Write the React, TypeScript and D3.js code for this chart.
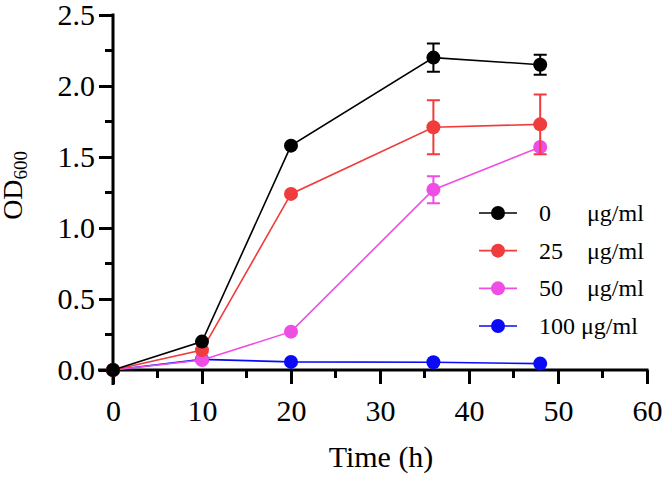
import React, { useEffect, useRef } from 'react';
import * as d3 from 'd3';

const times = [0, 10, 20, 36, 48];

const seriesNames = ['0', '25', '50', '100'];
const seriesColors = ['#000000', '#f03c3c', '#ee4ee4', '#0a0af5'];

const od0 = [0, 0.2, 1.58, 2.2, 2.15];
const sd0 = [0, 0, 0, 0.1, 0.07];
const od25 = [0, 0.14, 1.24, 1.71, 1.73];
const sd25 = [0, 0, 0, 0.19, 0.21];
const od50 = [0, 0.07, 0.27, 1.27, 1.57];
const sd50 = [0, 0, 0, 0.095, 0];
const od100 = [0, 0.075, 0.057, 0.055, 0.045];
const sd100 = [0, 0, 0, 0, 0];

const xTicks = [0, 10, 20, 30, 40, 50, 60];
const yTicks = [0, 0.5, 1.0, 1.5, 2.0, 2.5];

const FONT = '"Liberation Serif", "Times New Roman", serif';

const App: React.FC = () => {
  const ref = useRef<SVGSVGElement>(null);
  const width = 665;
  const height = 477;

  useEffect(() => {
    if (!ref.current) return;
    const svg = d3.select(ref.current);
    svg.selectAll('*').remove();

    const x = d3.scaleLinear().domain([0, 60]).range([113, 647]);
    const y = d3.scaleLinear().domain([0, 2.5]).range([370, 15]);

    const values = [od0, od25, od50, od100];
    const errors = [sd0, sd25, sd50, sd100];
    const series = seriesNames.map((name, i) => ({
      name,
      color: seriesColors[i],
      points: times.map((t, j) => ({ t, v: values[i][j], e: errors[i][j] })),
    }));

    // axes: major ticks with labels, minor ticks halfway
    const xAxis = svg
      .append('g')
      .attr('transform', `translate(0,${y(0)})`)
      .call(
        d3
          .axisBottom(x)
          .tickValues(xTicks)
          .tickSize(14)
          .tickSizeOuter(0)
          .tickPadding(16)
          .tickFormat((d) => String(d))
      )
      .attr('font-family', FONT)
      .attr('font-size', 30);
    xAxis.select('.domain').attr('stroke-width', 3).attr('d', `M${x(0) - 15},0H${x(60) + 1.5}`);
    xAxis.selectAll('.tick line').attr('stroke-width', 3);
    xAxis.selectAll('.tick text').attr('fill', '#000');
    xAxis
      .selectAll('.minor')
      .data([5, 15, 25, 35, 45, 55])
      .enter()
      .append('line')
      .attr('x1', (d) => x(d))
      .attr('x2', (d) => x(d))
      .attr('y1', 0)
      .attr('y2', 8)
      .attr('stroke', '#000')
      .attr('stroke-width', 3);

    const yAxis = svg
      .append('g')
      .attr('transform', `translate(${x(0)},0)`)
      .call(
        d3
          .axisLeft(y)
          .tickValues(yTicks)
          .tickSize(14)
          .tickSizeOuter(0)
          .tickPadding(4)
          .tickFormat((d) => d3.format('.1f')(d as number))
      )
      .attr('font-family', FONT)
      .attr('font-size', 30);
    yAxis.select('.domain').attr('stroke-width', 3).attr('d', `M0,${y(0) + 15}V${y(2.5) - 1.5}`);
    yAxis.selectAll('.tick line').attr('stroke-width', 3);
    yAxis.selectAll('.tick text').attr('fill', '#000').attr('dy', '0.3em');
    yAxis
      .selectAll('.minor')
      .data([0.25, 0.75, 1.25, 1.75, 2.25])
      .enter()
      .append('line')
      .attr('x1', 0)
      .attr('x2', -8)
      .attr('y1', (d) => y(d))
      .attr('y2', (d) => y(d))
      .attr('stroke', '#000')
      .attr('stroke-width', 3);

    // axis titles
    svg
      .append('text')
      .attr('x', 381)
      .attr('y', 467)
      .attr('text-anchor', 'middle')
      .attr('font-family', FONT)
      .attr('font-size', 30)
      .text('Time (h)');

    const yTitle = svg
      .append('text')
      .attr('transform', `translate(22,${y(1.3)}) rotate(-90)`)
      .attr('text-anchor', 'middle')
      .attr('font-family', FONT)
      .attr('font-size', 28);
    yTitle.append('tspan').text('OD');
    yTitle.append('tspan').attr('font-size', 19).attr('dy', 5).text('600');

    const line = d3
      .line<{ t: number; v: number }>()
      .x((d) => x(d.t))
      .y((d) => y(d.v));

    // draw from the highest concentration up so the control sits on top
    const layers = [...series].reverse();
    layers.forEach((s) => {
      const g = svg.append('g');
      g.append('path')
        .datum(s.points)
        .attr('fill', 'none')
        .attr('stroke', s.color)
        .attr('stroke-width', 1.6)
        .attr('d', line);

      const bars = s.points.filter((p) => p.e > 0);
      g.selectAll('.err')
        .data(bars)
        .enter()
        .append('path')
        .attr('fill', 'none')
        .attr('stroke', s.color)
        .attr('stroke-width', 2)
        .attr(
          'd',
          (p) =>
            `M${x(p.t)},${y(p.v + p.e)}V${y(p.v - p.e)}` +
            `M${x(p.t) - 6.5},${y(p.v + p.e)}h13` +
            `M${x(p.t) - 6.5},${y(p.v - p.e)}h13`
        );

      g.selectAll('.dot')
        .data(s.points)
        .enter()
        .append('circle')
        .attr('cx', (p) => x(p.t))
        .attr('cy', (p) => y(p.v))
        .attr('r', 7)
        .attr('fill', s.color);
    });

    // legend
    const legendY = d3.scalePoint<string>().domain(seriesNames).range([213, 326]);
    const legend = svg.append('g').attr('font-family', FONT).attr('font-size', 24);
    series.forEach((s) => {
      const ly = legendY(s.name)!;
      const row = legend.append('g');
      row
        .append('line')
        .attr('x1', 479)
        .attr('x2', 517)
        .attr('y1', ly)
        .attr('y2', ly)
        .attr('stroke', s.color)
        .attr('stroke-width', 1.6);
      row.append('circle').attr('cx', 498).attr('cy', ly).attr('r', 7).attr('fill', s.color);
      const label = row.append('text').attr('x', 539).attr('y', ly + 8);
      if (s.name.length > 2) {
        label.text(`${s.name} μg/ml`);
      } else {
        label.text(s.name);
        row.append('text').attr('x', 587).attr('y', ly + 8).text('μg/ml');
      }
    });
  }, []);

  return (
    <svg
      ref={ref}
      width={width}
      height={height}
      style={{ position: 'absolute', left: 0, top: 0, background: '#fff' }}
    />
  );
};

export default App;
